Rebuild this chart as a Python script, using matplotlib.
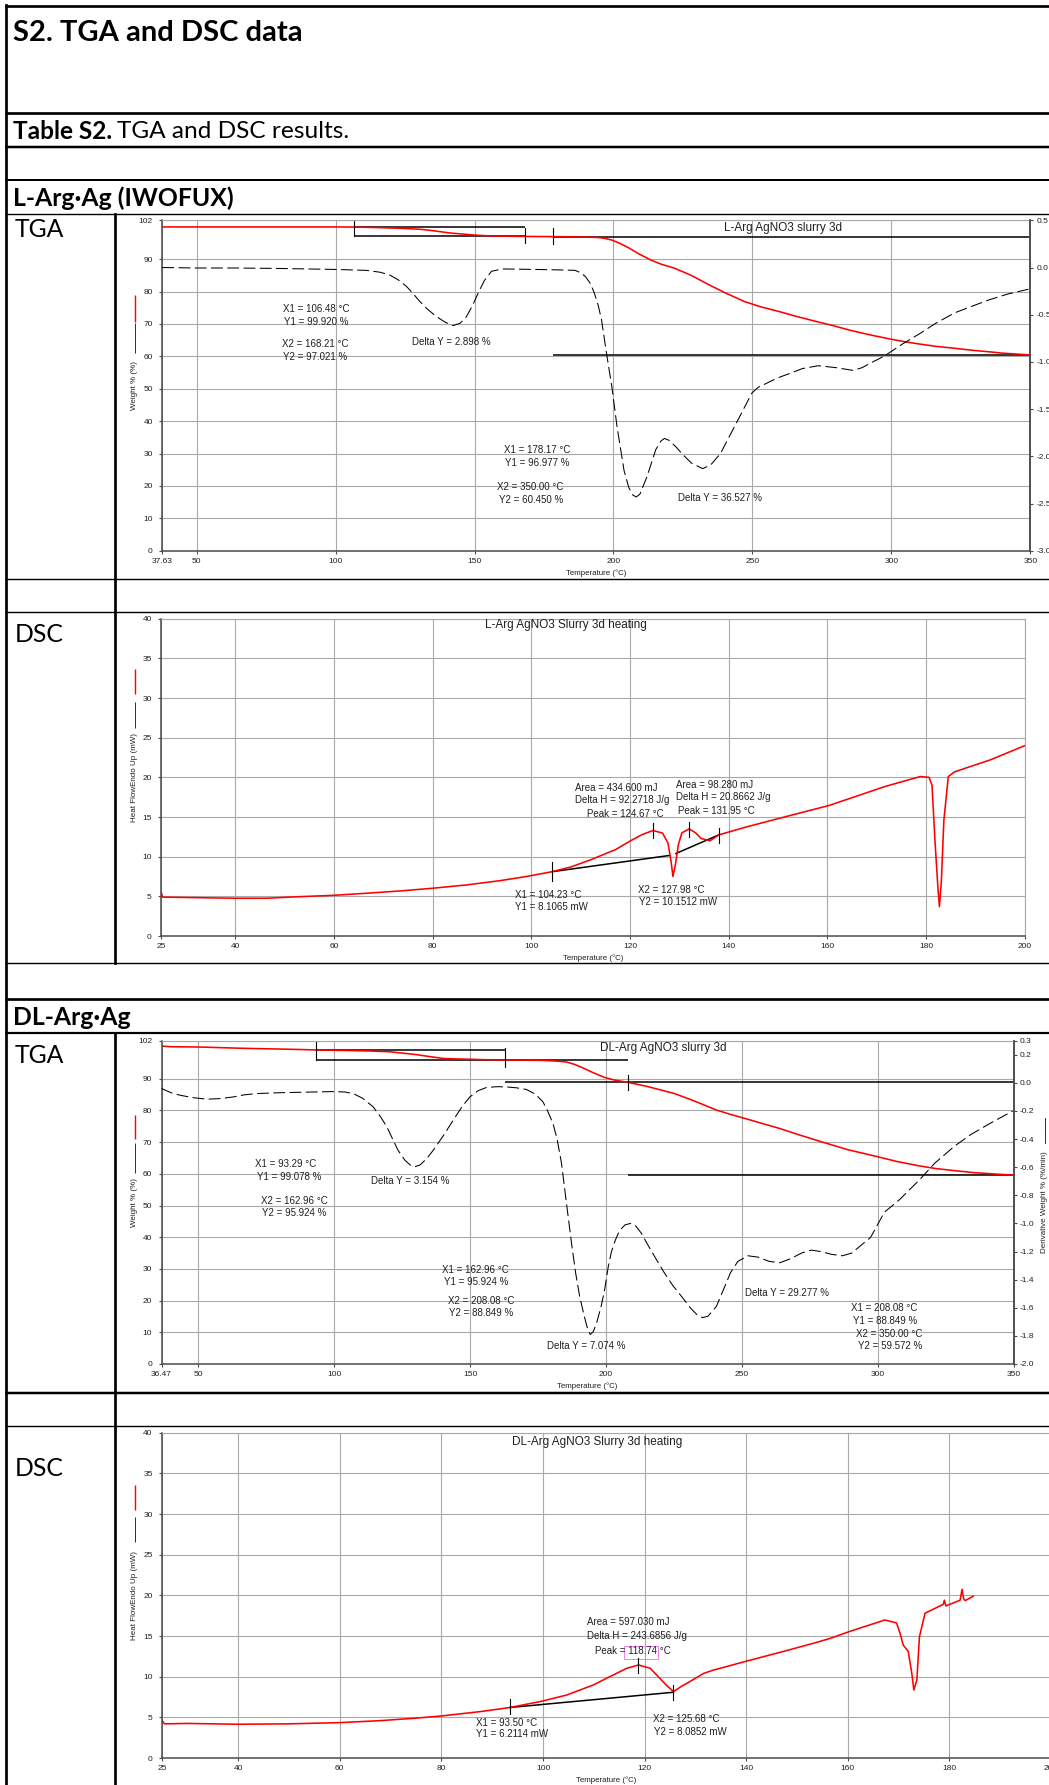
import matplotlib
matplotlib.use("Agg")
import matplotlib.pyplot as plt
from matplotlib.patches import Rectangle

plt.rcParams['font.family'] = ['Liberation Sans', 'DejaVu Sans']
plt.rcParams['lines.scale_dashes'] = False
plt.rcParams['axes.unicode_minus'] = False

# ======================= DATA =======================
# ---- L-Arg.Ag TGA ----
tga1_T = [37.63, 60, 80, 100, 105.4, 110, 115, 120, 124.2, 130.9, 134, 137.6, 141, 145, 150, 155, 160,
          168.2, 175, 178, 185, 190, 194.4, 197, 199.4, 202, 205.7, 209, 213.3, 217, 222, 228, 234.6,
          240, 247.2, 253, 259.8, 266, 272.4, 279, 285, 292, 299.3, 305, 310.2, 316, 322.8, 329,
          335.4, 340, 345.4, 350]
tga1_W = [99.95, 99.95, 99.95, 99.95, 99.93, 99.85, 99.75, 99.62, 99.5, 99.2, 98.9, 98.5, 98.1, 97.8,
          97.45, 97.2, 97.1, 97.02, 96.98, 96.95, 96.9, 96.8, 96.7, 96.4, 95.9, 95.0, 93.4, 91.7, 89.8,
          88.5, 87.2, 85.0, 82.0, 79.7, 76.9, 75.3, 73.8, 72.3, 70.9, 69.5, 68.1, 66.7, 65.4, 64.5,
          63.8, 63.1, 62.5, 61.9, 61.4, 61.0, 60.7, 60.45]
tga1_dT = [37.63, 50, 63, 80, 99, 111, 116, 119.5, 122.5, 125.5, 128, 130.3, 133, 136.3, 139.5, 142.3,
           144.8, 147.1, 149.3, 151.3, 153.5, 156.1, 160, 171, 180, 186.2, 188.5, 190, 191.7, 193.1,
           194.5, 195.7, 197.5, 199.4, 201.3, 203.8, 205.5, 207, 208.2, 209.5, 212, 215.2, 217, 218.3,
           220, 222.5, 224.6, 228, 232.1, 235, 238.5, 241.5, 244.7, 247.5, 249.8, 252, 254.8, 259,
           263.6, 268, 273.7, 280, 286.3, 289.5, 292.6, 296, 298.9, 304, 310.2, 316, 322.8, 329,
           335.4, 342, 349.3]
tga1_dW = [0.00, -0.005, -0.005, -0.01, -0.02, -0.03, -0.05, -0.08, -0.13, -0.20, -0.28, -0.36, -0.44,
           -0.52, -0.58, -0.615, -0.59, -0.52, -0.40, -0.27, -0.14, -0.04, -0.015, -0.02, -0.025,
           -0.03, -0.06, -0.10, -0.17, -0.27, -0.40, -0.555, -0.91, -1.26, -1.69, -2.15, -2.33,
           -2.41, -2.43, -2.40, -2.22, -1.93, -1.84, -1.81, -1.83, -1.90, -1.97, -2.07, -2.13,
           -2.09, -1.97, -1.80, -1.62, -1.46, -1.33, -1.27, -1.23, -1.17, -1.12, -1.07, -1.04,
           -1.06, -1.09, -1.06, -1.01, -0.96, -0.91, -0.81, -0.70, -0.59, -0.48, -0.41, -0.34,
           -0.28, -0.23]
# steps: (X1, Y1, X2, Y2)
tga1_steps = [(106.48, 99.920, 168.21, 97.021), (178.17, 96.977, 350.00, 60.450)]

# ---- L-Arg.Ag DSC ----
dsc1_T = [25, 25.3, 31.5, 40, 46.4, 53.1, 60, 66.6, 73.4, 80, 86.9, 93.7, 99, 104.23, 108, 112, 117.1,
          120.1, 122.5, 124.67, 126.6, 127.7, 128.3, 128.7, 129.2, 129.8, 130.5, 132, 133.3, 134.4,
          136.2, 138, 143.3, 150.4, 160.3, 171.7, 178.8, 180.6, 181.2, 181.8, 182.4, 182.7, 183.1,
          183.6, 184.5, 185.8, 193, 200]
dsc1_H = [5.5, 4.9, 4.84, 4.76, 4.76, 4.96, 5.13, 5.39, 5.68, 6.02, 6.44, 6.98, 7.5, 8.11, 8.7, 9.6, 10.9,
          12.0, 12.8, 13.3, 12.97, 11.7, 9.5, 7.5, 9.0, 11.5, 13.0, 13.5, 13.0, 12.3,
          12.0, 12.75, 13.7, 14.86, 16.45, 18.85, 20.1, 20.0, 19.0, 12.0, 6.0, 3.7, 7.0,
          14.6, 20.1, 20.7, 22.2, 24.0]
# integration baselines: (X1, Y1, X2, Y2)
dsc1_bases = [(104.23, 8.1065, 127.98, 10.1512), (129.3, 10.4, 138.0, 12.75)]

# ---- DL-Arg.Ag TGA ----
tga2_T = [36.47, 40, 50.6, 66.5, 83.7, 93.3, 105, 113, 120.5, 125, 130.3, 135, 140.1, 145, 149.9, 155,
          162.96, 170, 176.4, 181, 185.4, 188.5, 191.8, 195, 199.5, 203, 208.08, 215, 225.3, 233,
          240.7, 246, 251, 257, 263.9, 271, 279.3, 289, 299.9, 307, 315.3, 321, 328.2, 335, 342, 350]
tga2_W = [100.3, 100.1, 100.0, 99.6, 99.3, 99.08, 98.9, 98.75, 98.5, 98.1, 97.6, 97.0, 96.4, 96.25,
          96.15, 96.0, 95.92, 95.85, 95.8, 95.6, 95.3, 94.5, 93.3, 92.0, 90.4, 89.6, 88.85, 87.6,
          85.3, 82.8, 80.1, 78.7, 77.5, 76.0, 74.3, 72.3, 70.1, 67.6, 65.4, 63.9, 62.5, 61.7, 61.0,
          60.4, 60.0, 59.57]
tga2_dT = [36.47, 40, 43.3, 48, 53.1, 58, 62.9, 67, 71.5, 80, 87.4, 99.6, 104, 107, 110.5, 114.3, 117,
           119.3, 121.5, 123.5, 126, 128, 129.7, 131.5, 134, 136.4, 140, 143.8, 147, 149.9, 153, 156,
           160, 163.4, 167, 170.7, 174, 176.8, 178.5, 180.5, 182, 183.6, 185.4, 187.3, 188.8, 190.3,
           192, 193.2, 194.2, 195.3, 196.5, 198.2, 199.5, 200.8, 202, 203.4, 205, 207, 209, 211, 213,
           215, 218, 221.4, 224.5, 227.8, 231, 233.5, 235.5, 237.5, 240.6, 243, 245.8, 248.5, 252.2,
           256, 260, 263.9, 268, 272, 275.5, 279, 283, 287, 290.5, 293.5, 297.3, 302.4, 308, 315.3,
           321, 328.2, 334, 341.1, 349.6]
tga2_dW = [-0.04, -0.07, -0.088, -0.105, -0.116, -0.112, -0.10, -0.085, -0.076, -0.07, -0.067, -0.062,
           -0.065, -0.076, -0.11, -0.17, -0.24, -0.31, -0.40, -0.48, -0.55, -0.585, -0.596, -0.585,
           -0.54, -0.48, -0.38, -0.265, -0.17, -0.10, -0.055, -0.033, -0.027, -0.029, -0.035, -0.047,
           -0.08, -0.135, -0.20, -0.29, -0.40, -0.57, -0.85, -1.14, -1.35, -1.52, -1.66, -1.75, -1.79,
           -1.77, -1.71, -1.59, -1.47, -1.31, -1.20, -1.12, -1.05, -1.01, -1.00, -1.02, -1.07, -1.14,
           -1.24, -1.35, -1.44, -1.52, -1.60, -1.65, -1.67, -1.66, -1.59, -1.48, -1.35, -1.27, -1.23,
           -1.24, -1.27, -1.28, -1.25, -1.21, -1.19, -1.20, -1.22, -1.23, -1.21, -1.16, -1.10, -0.92,
           -0.83, -0.69, -0.57, -0.45, -0.37, -0.29, -0.20]
tga2_steps = [(93.29, 99.078, 162.96, 95.924), (162.96, 95.924, 208.08, 88.849),
              (208.08, 88.849, 350.00, 59.572)]

# ---- DL-Arg.Ag DSC ----
dsc2_T = [25, 25.5, 30, 35, 40, 50, 60, 67.9, 75, 80, 87.6, 93.5, 99.9, 104.7, 109.9, 113.8, 116.5, 118.8,
          121.1, 122.7, 124.2, 125.7, 127.2, 128.9, 131.6, 133.5, 140, 146.7, 153.2, 156.5, 160.1,
          163, 167.3, 169.6, 170.3, 170.9, 171.9, 172.6, 173.0, 173.6, 174.1, 175.2, 177.5, 178.8,
          179.0, 179.3, 182.1, 182.5, 182.8, 183.1, 184.7]
dsc2_H = [4.6, 4.2, 4.25, 4.2, 4.15, 4.2, 4.35, 4.59, 4.9, 5.17, 5.7, 6.21, 7.0, 7.75, 8.98, 10.2, 11.03,
          11.44, 11.03, 10.0, 9.0, 8.16, 8.8, 9.39, 10.4, 10.8, 11.9, 13.0, 14.1, 14.7, 15.5,
          16.1, 16.97, 16.6, 15.3, 13.9, 13.1, 10.4, 8.36, 9.6, 14.9, 17.8, 18.5, 18.9,
          19.4, 18.7, 19.4, 20.75, 19.6, 19.35, 19.9]
dsc2_bases = [(93.50, 6.2114, 125.68, 8.0852)]

# ---- axis ticks ----
tga1_xticks = [37.63, 50, 100, 150, 200, 250, 300, 350]
tga1_xlabels = ['37.63', '50', '100', '150', '200', '250', '300', '350']
tga2_xticks = [36.47, 50, 100, 150, 200, 250, 300, 350]
tga2_xlabels = ['36.47', '50', '100', '150', '200', '250', '300', '350']
tga_yticks = [0, 10, 20, 30, 40, 50, 60, 70, 80, 90, 102]
tga1_y2ticks = [0.5, 0.0, -0.5, -1.0, -1.5, -2.0, -2.5, -3.0]
tga1_y2labels = ['0.5', '0.0', '-0.5', '-1.0', '-1.5', '-2.0', '-2.5', '-3.0']
tga2_y2ticks = [0.3, 0.2, 0.0, -0.2, -0.4, -0.6, -0.8, -1.0, -1.2, -1.4, -1.6, -1.8, -2.0]
tga2_y2labels = ['0.3', '0.2', '0.0', '-0.2', '-0.4', '-0.6', '-0.8', '-1.0', '-1.2', '-1.4',
                 '-1.6', '-1.8', '-2.0']
dsc_xticks = [25, 40, 60, 80, 100, 120, 140, 160, 180, 200]
dsc_yticks = [0, 5, 10, 15, 20, 25, 30, 35, 40]

# ======================= FIGURE =======================
W, H = 1049, 1785
fig = plt.figure(figsize=(W / 100, H / 100), dpi=100)
fig.patch.set_facecolor('white')

def rect(l, t, r, b):
    return [l / W, 1 - b / H, (r - l) / W, (b - t) / H]

tab = fig.add_axes([0, 0, 1, 1])
tab.set_xlim(0, W)
tab.set_ylim(H, 0)
tab.axis('off')

PX = 0.72  # points per pixel
HF = ['Lato', 'DejaVu Sans']

# table rules
hrules = [(6, 2.7), (113, 2.7), (147, 2.5), (180, 2.0), (214, 1.4), (579, 1.4), (612, 1.4),
          (963, 1.4), (999, 2.7), (1033, 2.2), (1393, 2.5), (1426, 1.4)]
for y, w in hrules:
    tab.plot([5, W], [y, y], color='black', lw=w * PX, solid_capstyle='butt')
tab.plot([6, 6], [5, H], color='black', lw=2.7 * PX)
tab.plot([115, 115], [214, 963], color='black', lw=2.7 * PX)
tab.plot([115, 115], [1033, H], color='black', lw=2.7 * PX)

tab.text(13, 33, 'S2. TGA and DSC data', fontsize=21, fontweight='bold', family=HF, va='center')
t1 = tab.text(13, 131, 'Table S2.', fontsize=17.6, fontweight='bold', family=HF, va='center')
fig.canvas.draw()
bb = t1.get_window_extent(fig.canvas.get_renderer())
tab.text(bb.x1 + 5, 131, 'TGA and DSC results.', fontsize=17.6, family=HF, va='center')
tab.text(13, 198, 'L-Arg·Ag (IWOFUX)', fontsize=17.8, fontweight='bold', family=HF, va='center')
tab.text(13, 1017, 'DL-Arg·Ag', fontsize=17.8, fontweight='bold', family=HF, va='center')
for lab, y in [('TGA', 229), ('DSC', 634), ('TGA', 1055), ('DSC', 1468)]:
    tab.text(15, y, lab, fontsize=17.8, family=HF, va='center')

GRID = '#a9a9a9'
AXC = '#4a4a4a'
TXT = '#202020'

def make_axes(l, t, r, b, xlim, ylim, xt, xl, yt, right_dark):
    ax = fig.add_axes(rect(l, t, r, b))
    ax.set_xlim(*xlim)
    ax.set_ylim(*ylim)
    ax.set_xticks(xt)
    ax.set_xticklabels(xl)
    ax.set_yticks(yt)
    ax.set_yticklabels([str(v) for v in yt])
    ax.grid(True, color=GRID, lw=0.8)
    ax.set_axisbelow(True)
    for s in ['left', 'bottom']:
        ax.spines[s].set_color(AXC)
        ax.spines[s].set_linewidth(1.1)
    ax.spines['top'].set_color(GRID)
    ax.spines['top'].set_linewidth(0.8)
    ax.spines['right'].set_color(AXC if right_dark else GRID)
    ax.spines['right'].set_linewidth(1.1 if right_dark else 0.8)
    ax.tick_params(direction='out', length=2.5, width=0.8, color=AXC, labelsize=6,
                   labelcolor=TXT)
    ax.tick_params(axis='x', pad=2.6)
    ax.tick_params(axis='y', pad=4.3)
    # x label
    tab.text((l + r) / 2, b + 22, 'Temperature (°C)', fontsize=5.7, ha='center', va='center',
             color=TXT)
    return ax

def ylab_left(yc, text, red_top, red_bot, blk_top, blk_bot):
    tab.text(135, yc, text, rotation=90, fontsize=5.8, ha='center', va='center', color=TXT)
    tab.plot([135, 135], [red_top, red_bot], color='red', lw=1.4 * PX, solid_capstyle='butt')
    tab.plot([135, 135], [blk_top, blk_bot], color='black', lw=0.8 * PX, solid_capstyle='butt')

def ann(ax, items, ha):
    for s, x, y in items:
        ax.text(x, y, s, fontsize=7, ha=ha, va='center', color=TXT)

RED_LW = 1.15
DASH = (8.5, 3.2)

# ---------------- TGA 1 ----------------
ax = make_axes(162.3, 220.3, 1030.3, 550.8, (37.63, 350), (0, 102), tga1_xticks, tga1_xlabels,
               tga_yticks, True)
ax2 = ax.twinx()
ax2.set_ylim(-3.0, 0.5)
ax2.set_yticks(tga1_y2ticks)
ax2.set_yticklabels(tga1_y2labels)
for s in ['left', 'top', 'bottom']:
    ax2.spines[s].set_visible(False)
ax2.spines['right'].set_color(AXC)
ax2.spines['right'].set_linewidth(1.1)
ax2.tick_params(direction='out', length=2.5, width=0.8, color=AXC, labelsize=6, labelcolor=TXT, pad=2)
ax2.plot(tga1_dT, tga1_dW, color='black', lw=0.75, dashes=DASH)
for x1, y1, x2, y2 in tga1_steps:
    ax.plot([x1, x2], [y1, y1], color='black', lw=1.1, solid_capstyle='butt')
    ax.plot([x1, x2], [y2, y2], color='black', lw=1.1, solid_capstyle='butt')
ax.plot(tga1_T, tga1_W, color='red', lw=RED_LW)
s = tga1_steps
ax.plot([s[0][0]] * 2, [s[0][3], 102], color='black', lw=0.8)
ax.plot([s[0][2]] * 2, [s[0][3] - 2.0, s[0][1] - 0.2], color='black', lw=0.8)
ax.plot([s[1][0]] * 2, [s[1][1] - 2.4, s[1][1] + 2.5], color='black', lw=0.8)
ax.text(261.1, 99.6, 'L-Arg AgNO3 slurry 3d', fontsize=8.5, ha='center', va='center', color=TXT)
ann(ax, [('X1 = 106.48 °C', 93.2, 74.5), ('Y1 = 99.920 %', 93.2, 70.6),
         ('X2 = 168.21 °C', 92.6, 63.7), ('Y2 = 97.021 %', 92.6, 59.7),
         ('Delta Y = 2.898 %', 141.5, 64.5),
         ('X1 = 178.17 °C', 172.6, 31.1), ('Y1 = 96.977 %', 172.6, 27.1),
         ('X2 = 350.00 °C', 169.9, 19.6), ('Y2 = 60.450 %', 170.4, 15.7),
         ('Delta Y = 36.527 %', 238.5, 16.3)], 'center')
ylab_left(385.5, 'Weight % (%)', 295, 322, 323, 353)

# ---------------- DSC 1 ----------------
ax = make_axes(161.2, 618.7, 1024.8, 936, (25, 200), (0, 40), dsc_xticks,
               [str(v) for v in dsc_xticks], dsc_yticks, False)
for x1, y1, x2, y2 in dsc1_bases:
    ax.plot([x1, x2], [y1, y2], color='black', lw=1.1)
ax.plot(dsc1_T, dsc1_H, color='red', lw=RED_LW)
for x, lo, hi in [(dsc1_bases[0][0], 6.9, 9.3), (124.67, 12.4, 14.3), (131.95, 12.5, 14.4),
                  (dsc1_bases[1][2], 11.7, 13.6)]:
    ax.plot([x, x], [lo, hi], color='black', lw=0.8)
ax.text(107, 39.2, 'L-Arg AgNO3 Slurry 3d heating', fontsize=8.5, ha='center', va='center', color=TXT)
ann(ax, [('Area = 434.600 mJ', 108.9, 18.7), ('Delta H = 92.2718 J/g', 108.9, 17.2),
         ('Peak = 124.67 °C', 111.2, 15.4),
         ('Area = 98.280 mJ', 129.3, 18.98), ('Delta H = 20.8662 J/g', 129.3, 17.5),
         ('Peak = 131.95 °C', 129.65, 15.8),
         ('X1 = 104.23 °C', 96.7, 5.18), ('Y1 = 8.1065 mW', 96.7, 3.66),
         ('X2 = 127.98 °C', 121.7, 5.8), ('Y2 = 10.1512 mW', 121.85, 4.25)], 'left')
ylab_left(777, 'Heat FlowEndo Up (mW)', 669, 694, 701.7, 728.3)

# ---------------- TGA 2 ----------------
ax = make_axes(161.5, 1040.7, 1013.8, 1364, (36.47, 350), (0, 102), tga2_xticks, tga2_xlabels,
               tga_yticks, True)
ax2 = ax.twinx()
ax2.set_ylim(-2.0, 0.3)
ax2.set_yticks(tga2_y2ticks)
ax2.set_yticklabels(tga2_y2labels)
for s_ in ['left', 'top', 'bottom']:
    ax2.spines[s_].set_visible(False)
ax2.spines['right'].set_color(AXC)
ax2.spines['right'].set_linewidth(1.1)
ax2.tick_params(direction='out', length=2.5, width=0.8, color=AXC, labelsize=6, labelcolor=TXT, pad=2)
ax2.plot(tga2_dT, tga2_dW, color='black', lw=0.75, dashes=DASH)
for x1, y1, x2, y2 in tga2_steps:
    ax.plot([x1, x2], [y1, y1], color='black', lw=1.1, solid_capstyle='butt')
    ax.plot([x1, x2], [y2, y2], color='black', lw=1.1, solid_capstyle='butt')
ax.plot(tga2_T, tga2_W, color='red', lw=RED_LW)
s = tga2_steps
ax.plot([s[0][0]] * 2, [s[0][3], s[0][1] + 2.4], color='black', lw=0.8)
ax.plot([s[0][2]] * 2, [s[0][3] - 2.3, s[0][1] + 0.5], color='black', lw=0.8)
ax.plot([s[1][2]] * 2, [s[1][3] - 2.4, s[1][3] + 2.4], color='black', lw=0.8)
ax.text(221.2, 99.8, 'DL-Arg AgNO3 slurry 3d', fontsize=8.5, ha='center', va='center', color=TXT)
ann(ax, [('X1 = 93.29 °C', 82.3, 62.97), ('Y1 = 99.078 %', 83.4, 59.1),
         ('X2 = 162.96 °C', 85.2, 51.5), ('Y2 = 95.924 %', 85.2, 47.6),
         ('Delta Y = 3.154 %', 128.1, 57.7),
         ('X1 = 162.96 °C', 152.0, 29.65), ('Y1 = 95.924 %', 152.1, 25.8),
         ('X2 = 208.08 °C', 153.9, 19.97), ('Y2 = 88.849 %', 154.0, 16.2),
         ('Delta Y = 7.074 %', 192.8, 5.7), ('Delta Y = 29.277 %', 266.6, 22.3),
         ('X1 = 208.08 °C', 302.5, 17.6), ('Y1 = 88.849 %', 302.6, 13.6),
         ('X2 = 350.00 °C', 304.2, 9.6), ('Y2 = 59.572 %', 304.4, 5.6)], 'center')
ylab_left(1202, 'Weight % (%)', 1115, 1139, 1143, 1173)
tab.text(1044.5, 1202, 'Derivative Weight % (%/min)', rotation=90, fontsize=5.8, ha='center',
         va='center', color=TXT)
tab.plot([1044.5, 1044.5], [1118, 1143], color='black', lw=0.8 * PX)

# ---------------- DSC 2 ----------------
ax = make_axes(162, 1432.7, 1051, 1758, (25, 200), (0, 40), dsc_xticks,
               [str(v) for v in dsc_xticks], dsc_yticks, False)
for x1, y1, x2, y2 in dsc2_bases:
    ax.plot([x1, x2], [y1, y2], color='black', lw=1.1)
ax.plot(dsc2_T, dsc2_H, color='red', lw=RED_LW)
for x, lo, hi in [(dsc2_bases[0][0], 5.4, 7.2), (118.74, 10.4, 12.3), (dsc2_bases[0][2], 7.1, 9.0)]:
    ax.plot([x, x], [lo, hi], color='black', lw=0.8)
ax.text(110.7, 38.9, 'DL-Arg AgNO3 Slurry 3d heating', fontsize=8.5, ha='center', va='center',
        color=TXT)
ann(ax, [('Area = 597.030 mJ', 108.7, 16.7), ('Delta H = 243.6856 J/g', 108.7, 15.05),
         ('Peak = 118.74 °C', 110.2, 13.2),
         ('X1 = 93.50 °C', 86.75, 4.3), ('Y1 = 6.2114 mW', 86.8, 2.9),
         ('X2 = 125.68 °C', 121.7, 4.76), ('Y2 = 8.0852 mW', 121.9, 3.2)], 'left')
ax.add_patch(Rectangle((116.0, 12.18), 6.7, 1.6, fill=False, edgecolor='#ee82ee', lw=0.7))
ylab_left(1595, 'Heat FlowEndo Up (mW)', 1485, 1510, 1517, 1542)

fig.savefig('out.png', dpi=100)
